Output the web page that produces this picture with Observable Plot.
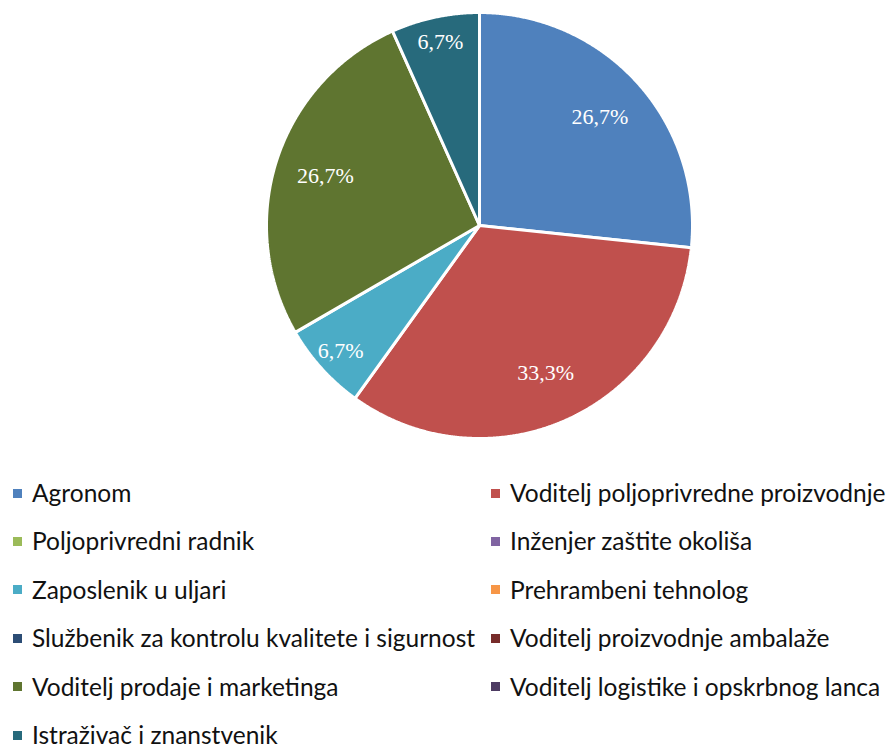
<!DOCTYPE html>
<html><head><meta charset="utf-8">
<script src="https://cdn.jsdelivr.net/npm/d3@7"></script>
<script src="https://cdn.jsdelivr.net/npm/@observablehq/plot@0.6"></script>
<style>
body{margin:0;background:#fff;width:894px;height:744px;overflow:hidden}
#chart svg{display:block}
#legend{position:relative;width:894px;height:294px;font-family:Lato,sans-serif;font-size:24.5px;color:#111}
.item{position:absolute;display:flex;align-items:center;white-space:nowrap;height:22px;line-height:22px}
.sw{width:9px;height:9px;margin-right:10px;flex:none}
</style></head>
<body>
<div id="chart"></div>
<div id="legend"></div>
<script>
const categories = [
  "Agronom",
  "Voditelj poljoprivredne proizvodnje",
  "Poljoprivredni radnik",
  "Inženjer zaštite okoliša",
  "Zaposlenik u uljari",
  "Prehrambeni tehnolog",
  "Službenik za kontrolu kvalitete i sigurnost",
  "Voditelj proizvodnje ambalaže",
  "Voditelj prodaje i marketinga",
  "Voditelj logistike i opskrbnog lanca",
  "Istraživač i znanstvenik"
];
const shares = [26.7, 33.3, 0, 0, 6.7, 0, 0, 0, 26.7, 0, 6.7];
const colors = ["#4F81BD","#C0504D","#9BBB59","#8064A2","#4BACC6","#F79646","#2C4D75","#772C2A","#5F7530","#4D3B62","#276A7C"];

const fmt = d3.formatLocale({decimal: ",", thousands: ".", grouping: [3], currency: ["", "€"]}).format(".1f");
const total = d3.sum(shares);

// build slice polygons (unit radius, angle clockwise from 12 o'clock)
const pts = [];
const labels = [];
let acc = 0;
categories.forEach((c, i) => {
  const v = shares[i];
  if (v <= 0) { return; }
  const a0 = acc / total * 2 * Math.PI;
  acc += v;
  const a1 = acc / total * 2 * Math.PI;
  pts.push({cat: c, x: 0, y: 0});
  const n = Math.max(2, Math.ceil((a1 - a0) / 0.005));
  for (let k = 0; k <= n; k++) {
    const a = a0 + (a1 - a0) * k / n;
    pts.push({cat: c, x: Math.sin(a), y: Math.cos(a)});
  }
  pts.push({cat: c, x: 0, y: 0});
  const am = (a0 + a1) / 2;
  const rr = v / total >= 0.2 ? 0.76 : 0.88;
  labels.push({x: rr * Math.sin(am), y: rr * Math.cos(am), text: fmt(v) + "%"});
});

const plot = Plot.plot({
  width: 894, height: 450,
  marginLeft: 266, marginRight: 202, marginTop: 12, marginBottom: 12,
  x: {domain: [-1, 1], axis: null},
  y: {domain: [-1, 1], axis: null},
  color: {domain: categories, range: colors},
  marks: [
    Plot.line(pts, {x: "x", y: "y", z: "cat", fill: "cat", stroke: "white", strokeWidth: 3, strokeLinejoin: "miter", curve: "linear"}),
    Plot.text(labels, {x: "x", y: "y", text: "text", fill: "white", fontSize: 22, fontFamily: "Liberation Serif"})
  ]
});
document.getElementById("chart").appendChild(plot);

const legend = document.getElementById("legend");
categories.forEach((c, i) => {
  const row = Math.floor(i / 2), col = i % 2;
  const it = document.createElement("div");
  it.className = "item";
  it.style.left = (col === 0 ? 13 : 491) + "px";
  it.style.top = (493 - 450 + row * 48.4 - 11) + "px";
  const sw = document.createElement("span");
  sw.className = "sw";
  sw.style.background = colors[i];
  const tx = document.createElement("span");
  tx.textContent = c;
  it.appendChild(sw); it.appendChild(tx);
  legend.appendChild(it);
});
</script>
</body></html>
